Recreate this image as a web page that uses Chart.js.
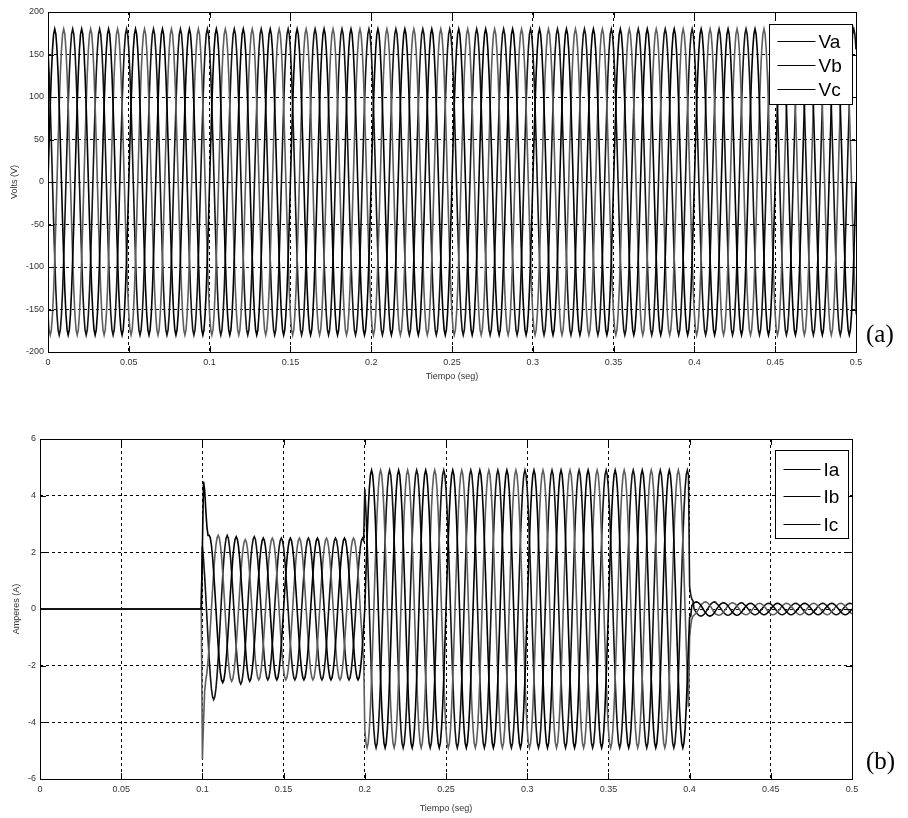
<!DOCTYPE html>
<html>
<head>
<meta charset="utf-8">
<script src="https://cdn.jsdelivr.net/npm/chart.js@4.4.1/dist/chart.umd.min.js"></script>
<style>
  body { margin: 0; background: #fff; }
  #wrap { position: relative; width: 908px; height: 818px; }
  canvas { position: absolute; left: 0; }
  .tag { position: absolute; left: 866px; font-family: "Liberation Serif", "Times New Roman", serif; font-size: 25px; color: #000; line-height: 1; }
</style>
</head>
<body>
<div id="wrap">
  <canvas id="volts" width="908" height="400" style="top:0"></canvas>
  <canvas id="amps" width="908" height="418" style="top:400px"></canvas>
  <div class="tag" style="top:321px">(a)</div>
  <div class="tag" style="top:748px">(b)</div>
</div>
<script>
// 60 Hz, 24 samples per cycle, 30 cycles -> 0 .. 0.5 s
var freq = 60;
var samplesPerCycle = 24;
var cycles = 30;
var waveShape = [0, 0.259, 0.5, 0.707, 0.866, 0.966, 1, 0.966, 0.866, 0.707, 0.5, 0.259,
  0, -0.259, -0.5, -0.707, -0.866, -0.966, -1, -0.966, -0.866, -0.707, -0.5, -0.259];
var phaseShift = [0, 8, 16]; // a, b, c (120 deg apart)

var xTicks = [0, 0.05, 0.1, 0.15, 0.2, 0.25, 0.3, 0.35, 0.4, 0.45, 0.5];

var voltLabels = ["Va", "Vb", "Vc"];
var voltPeak = [180, 180, 180];

var currLabels = ["Ia", "Ib", "Ic"];
// peak value per cycle (30 cycles)
var peakIa = [0, 0, 0, 0, 0, 0, 2.6, 2.55, 2.5, 2.5, 2.5, 2.5,
  4.9, 4.9, 4.9, 4.9, 4.9, 4.9, 4.9, 4.9, 4.9, 4.9, 4.9, 4.9,
  0.25, 0.22, 0.2, 0.2, 0.2, 0.2];
var peakIb = [0, 0, 0, 0, 0, 0, 2.6, 2.5, 2.5, 2.5, 2.5, 2.5,
  4.9, 4.9, 4.9, 4.9, 4.9, 4.9, 4.9, 4.9, 4.9, 4.9, 4.9, 4.9,
  0.25, 0.22, 0.2, 0.2, 0.2, 0.2];
var peakIc = [0, 0, 0, 0, 0, 0, 2.9, 2.6, 2.5, 2.5, 2.5, 2.5,
  4.9, 4.9, 4.9, 4.9, 4.9, 4.9, 4.9, 4.9, 4.9, 4.9, 4.9, 4.9,
  0.25, 0.22, 0.2, 0.2, 0.2, 0.2];
// dc offset per cycle
var offIa = [0, 0, 0, 0, 0, 0, 0, 0, 0, 0, 0, 0,
  0, 0, 0, 0, 0, 0, 0, 0, 0, 0, 0, 0,
  0, 0, 0, 0, 0, 0];
var offIb = [0, 0, 0, 0, 0, 0, 0, -0.05, 0, 0, 0, 0,
  0, 0, 0, 0, 0, 0, 0, 0, 0, 0, 0, 0,
  0, 0, 0, 0, 0, 0];
var offIc = [0, 0, 0, 0, 0, 0, -0.3, -0.05, 0, 0, 0, 0,
  0, 0, 0, 0, 0, 0, 0, 0, 0, 0, 0, 0,
  0, 0, 0, 0, 0, 0];
// first samples read right after the switching instants (0.1 s and 0.4 s)
var startAt010 = 144;
var startAt040 = 576;
var switchIa010 = [2.2, 4.5, 4.2, 3.5, 2.9, 2.6];
var switchIb010 = [-5.3, -4.0, -2.9];
var switchIc010 = [];
var switchIa040 = [-0.3, -0.25];
var switchIb040 = [-1.0, -0.6, -0.35, -0.25];
var switchIc040 = [0.8, 0.5, 0.35, 0.28];

var lineColors = ["#000000", "#5e5e5e", "#141414"];

function buildSeries(peaks, offsets, shift, sw010, sw040) {
  var pts = [];
  for (var i = 0; i <= cycles * samplesPerCycle; i++) {
    var c = Math.min(Math.floor(i / samplesPerCycle), cycles - 1);
    var s = ((i - shift) % samplesPerCycle + samplesPerCycle) % samplesPerCycle;
    var y = peaks[c] * waveShape[s] + offsets[c];
    if (sw010 && i - startAt010 >= 0 && i - startAt010 < sw010.length) y = sw010[i - startAt010];
    if (sw040 && i - startAt040 >= 0 && i - startAt040 < sw040.length) y = sw040[i - startAt040];
    pts.push({ x: i / (freq * samplesPerCycle), y: y });
  }
  return pts;
}

function makeDataset(label, data, idx) {
  return {
    label: label,
    data: data,
    borderColor: lineColors[idx],
    borderWidth: 1.6,
    pointRadius: 0,
    tension: 0,
    fill: false
  };
}

var zeros = new Array(cycles).fill(0);
var voltSets = voltLabels.map(function (lab, p) {
  return makeDataset(lab, buildSeries(new Array(cycles).fill(voltPeak[p]), zeros, phaseShift[p]), p);
});
var currPeaks = [peakIa, peakIb, peakIc];
var currOffs = [offIa, offIb, offIc];
var currSw010 = [switchIa010, switchIb010, switchIc010];
var currSw040 = [switchIa040, switchIb040, switchIc040];
var currSets = currLabels.map(function (lab, p) {
  return makeDataset(lab, buildSeries(currPeaks[p], currOffs[p], phaseShift[p], currSw010[p], currSw040[p]), p);
});

// matlab style box, inner ticks and legend
var framePlugin = {
  id: "frame",
  afterDraw: function (chart, args, opts) {
    var a = chart.chartArea, ctx = chart.ctx;
    var xs = chart.scales.x, ys = chart.scales.y;
    ctx.save();
    ctx.strokeStyle = "#000";
    ctx.lineWidth = 1;
    ctx.setLineDash([]);
    ctx.strokeRect(Math.round(a.left) + 0.5, Math.round(a.top) + 0.5, Math.round(a.right - a.left), Math.round(a.bottom - a.top));
    ctx.beginPath();
    xs.ticks.forEach(function (t) {
      var px = Math.round(xs.getPixelForValue(t.value)) + 0.5;
      ctx.moveTo(px, a.top); ctx.lineTo(px, a.top + 6);
      ctx.moveTo(px, a.bottom); ctx.lineTo(px, a.bottom - 6);
    });
    ys.ticks.forEach(function (t) {
      var py = Math.round(ys.getPixelForValue(t.value)) + 0.5;
      ctx.moveTo(a.left, py); ctx.lineTo(a.left + 6, py);
      ctx.moveTo(a.right, py); ctx.lineTo(a.right - 6, py);
    });
    ctx.stroke();

    // legend box
    var bx = Math.round(a.right - opts.right - opts.width) + 0.5;
    var by = Math.round(a.top + opts.top) + 0.5;
    ctx.fillStyle = "#fff";
    ctx.fillRect(bx, by, opts.width, opts.height);
    ctx.strokeRect(bx, by, opts.width, opts.height);
    ctx.font = opts.fontSize + "px 'Liberation Sans', Arial, sans-serif";
    ctx.textBaseline = "middle";
    ctx.fillStyle = "#000";
    chart.data.datasets.forEach(function (ds, i) {
      var ry = Math.round(by + opts.first + i * opts.gap) + 0.5;
      ctx.beginPath();
      ctx.moveTo(bx + 8, ry);
      ctx.lineTo(bx + opts.lineLen, ry);
      ctx.stroke();
      ctx.fillText(ds.label, bx + opts.lineLen + 3, ry + 1);
    });
    ctx.restore();
  }
};

function axisOptions(min, max, step, title, yWidth, xHeight, yTitlePad, xTitlePad) {
  var tickFont = { family: "'Liberation Sans', Arial, sans-serif", size: 9 };
  return {
    x: {
      type: "linear",
      min: 0, max: 0.5,
      afterBuildTicks: function (scale) {
        scale.ticks = xTicks.map(function (v) { return { value: v }; });
      },
      afterFit: function (scale) { scale.height = xHeight; },
      ticks: {
        color: "#333", font: tickFont, padding: 5, maxRotation: 0,
        callback: function (v) { return String(v); }
      },
      grid: { color: "#000", lineWidth: 1, drawTicks: false },
      border: { display: false, dash: [3, 3] },
      title: { display: true, text: "Tiempo (seg)", color: "#333", font: tickFont, padding: { top: 0, bottom: xTitlePad } }
    },
    y: {
      min: min, max: max,
      ticks: { stepSize: step, color: "#333", font: tickFont, padding: 4 },
      afterFit: function (scale) { scale.width = yWidth; },
      grid: { color: "#000", lineWidth: 1, drawTicks: false },
      border: { display: false, dash: [3, 3] },
      title: { display: true, text: title, color: "#333", font: tickFont, padding: { top: yTitlePad, bottom: 0 } }
    }
  };
}

new Chart(document.getElementById("volts").getContext("2d"), {
  type: "line",
  data: { datasets: voltSets },
  options: {
    responsive: false,
    animation: false,
    devicePixelRatio: 1,
    layout: { padding: { left: 0, top: 12, right: 52, bottom: 0 } },
    scales: axisOptions(-200, 200, 50, "Volts (V)", 48, 48, 9.5, 18.5),
    plugins: {
      legend: { display: false },
      tooltip: { enabled: false },
      frame: { right: 4, top: 12, width: 83, height: 80, first: 16, gap: 24, lineLen: 46, fontSize: 19 }
    }
  },
  plugins: [framePlugin]
});

new Chart(document.getElementById("amps").getContext("2d"), {
  type: "line",
  data: { datasets: currSets },
  options: {
    responsive: false,
    animation: false,
    devicePixelRatio: 1,
    layout: { padding: { left: 0, top: 39, right: 56, bottom: 0 } },
    scales: axisOptions(-6, 6, 2, "Amperes (A)", 40, 39, 11.5, 4.5),
    plugins: {
      legend: { display: false },
      tooltip: { enabled: false },
      frame: { right: 4, top: 11, width: 73, height: 88, first: 18, gap: 27.5, lineLen: 45, fontSize: 19 }
    }
  },
  plugins: [framePlugin]
});
</script>
</body>
</html>
